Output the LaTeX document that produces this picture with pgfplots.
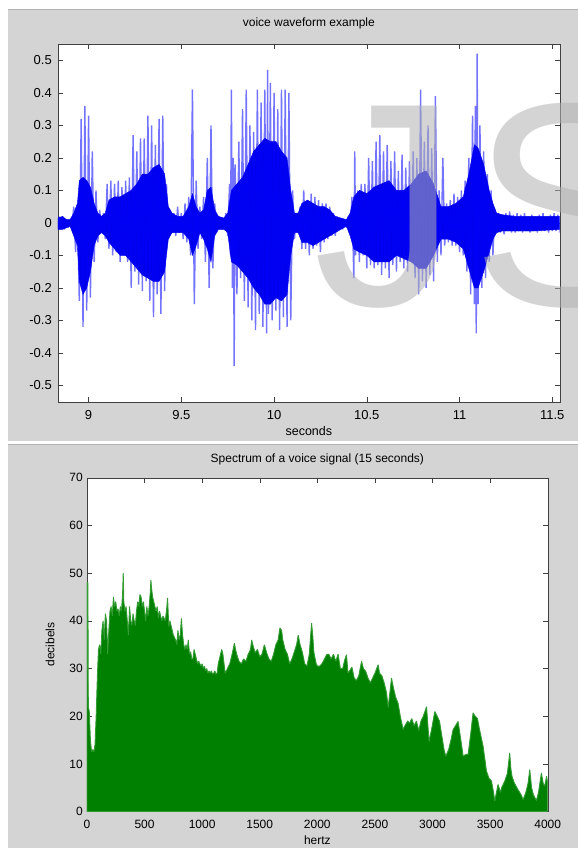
\documentclass[border=0pt]{standalone}
\usepackage{pgfplots}
\pgfplotsset{compat=1.18}
\usepackage{fontspec}
\setmainfont{Liberation Sans}
\definecolor{figgrey}{RGB}{212,212,212}
\definecolor{mblue}{RGB}{0,0,235}
\definecolor{mgreen}{RGB}{0,128,0}
\definecolor{mgreenedge}{RGB}{50,155,50}
\begin{document}
\begin{tikzpicture}
\fill[white] (0pt,0pt) rectangle (578pt,848pt);
\fill[figgrey] (8pt,407pt) rectangle (578pt,838pt);
\draw[black!30,line width=1pt] (8pt,838pt) -- (578pt,838pt);
\fill[figgrey] (8pt,0pt) rectangle (578pt,403pt);
\draw[black!30,line width=1pt] (8pt,403pt) -- (578pt,403pt);

\begin{axis}[
  at={(58pt,446pt)}, anchor=south west, scale only axis,
  width=502pt, height=358pt,
  xmin=8.835, xmax=11.54, ymin=-0.55, ymax=0.55,
  axis background/.style={fill=white},
  axis line style={black!75},
  every tick/.style={black!75},
  major tick length=5pt,
  xtick={9,9.5,10,10.5,11,11.5},
  ytick={-0.5,-0.4,-0.3,-0.2,-0.1,0,0.1,0.2,0.3,0.4,0.5},
  /pgf/number format/assume math mode=true,
  tick label style={font=\fontsize{13}{15}\selectfont},
  xticklabel style={anchor=base, yshift=-18pt},
  yticklabel style={/pgf/number format/fixed, /pgf/number format/precision=1, anchor=east, inner sep=0pt, xshift=-6pt},
  title={voice waveform example},
  title style={at={(0.5,1)}, anchor=base, yshift=11pt, font=\fontsize{12}{14}\selectfont},
  xlabel={seconds},
  xlabel style={at={(0.5,0)}, anchor=base, yshift=-34pt, font=\fontsize{12.5}{14}\selectfont},
]
% dense core of the waveform: upper envelope left to right, lower envelope right to left
\addplot[fill=mblue, draw=mblue, line width=0.4pt] table {
8.835 0.015
8.86 0.02
8.88 0.01
8.90 0.01
8.92 0.03
8.94 0.06
8.95 0.13
8.97 0.14
8.99 0.13
9.01 0.11
9.03 0.06
9.05 0.03
9.07 0.02
9.09 0.03
9.11 0.07
9.14 0.08
9.17 0.08
9.20 0.09
9.23 0.10
9.26 0.12
9.29 0.15
9.32 0.15
9.35 0.17
9.38 0.18
9.41 0.15
9.43 0.05
9.45 0.03
9.48 0.02
9.51 0.02
9.54 0.05
9.56 0.09
9.58 0.05
9.60 0.03
9.62 0.04
9.64 0.10
9.66 0.11
9.68 0.04
9.70 0.02
9.73 0.015
9.75 0.03
9.77 0.10
9.80 0.12
9.83 0.14
9.86 0.18
9.89 0.22
9.92 0.24
9.95 0.26
9.98 0.25
10.01 0.25
10.04 0.22
10.07 0.20
10.09 0.10
10.11 0.03
10.13 0.03
10.15 0.06
10.18 0.07
10.21 0.06
10.24 0.05
10.27 0.05
10.30 0.04
10.33 0.02
10.36 0.015
10.39 0.01
10.41 0.03
10.43 0.08
10.46 0.10
10.50 0.09
10.54 0.11
10.58 0.12
10.62 0.13
10.66 0.10
10.70 0.10
10.74 0.12
10.78 0.15
10.82 0.16
10.86 0.12
10.90 0.05
10.94 0.05
10.98 0.06
11.02 0.08
11.05 0.15
11.08 0.24
11.10 0.23
11.13 0.18
11.16 0.10
11.18 0.06
11.20 0.03
11.23 0.025
11.30 0.02
11.40 0.02
11.54 0.02
11.54 -0.02
11.40 -0.025
11.30 -0.025
11.23 -0.025
11.20 -0.03
11.18 -0.05
11.16 -0.09
11.13 -0.15
11.10 -0.20
11.08 -0.20
11.05 -0.14
11.02 -0.08
10.98 -0.06
10.94 -0.05
10.90 -0.05
10.86 -0.10
10.82 -0.14
10.78 -0.14
10.74 -0.12
10.70 -0.11
10.66 -0.10
10.62 -0.12
10.58 -0.12
10.54 -0.12
10.50 -0.10
10.46 -0.09
10.43 -0.08
10.41 -0.04
10.39 -0.01
10.36 -0.02
10.33 -0.03
10.30 -0.04
10.27 -0.05
10.24 -0.06
10.21 -0.07
10.18 -0.06
10.15 -0.06
10.13 -0.03
10.11 -0.03
10.09 -0.10
10.07 -0.22
10.04 -0.24
10.01 -0.23
9.98 -0.25
9.95 -0.25
9.92 -0.22
9.89 -0.20
9.86 -0.17
9.83 -0.15
9.80 -0.13
9.77 -0.12
9.75 -0.03
9.73 -0.02
9.70 -0.02
9.68 -0.04
9.66 -0.12
9.64 -0.08
9.62 -0.05
9.60 -0.03
9.58 -0.07
9.56 -0.10
9.54 -0.05
9.51 -0.03
9.48 -0.03
9.45 -0.03
9.43 -0.05
9.41 -0.15
9.38 -0.18
9.35 -0.18
9.32 -0.17
9.29 -0.16
9.26 -0.14
9.23 -0.12
9.20 -0.10
9.17 -0.10
9.14 -0.08
9.11 -0.06
9.09 -0.04
9.07 -0.03
9.05 -0.04
9.03 -0.07
9.01 -0.15
8.99 -0.20
8.97 -0.22
8.95 -0.18
8.94 -0.07
8.92 -0.04
8.90 -0.01
8.88 -0.015
8.86 -0.02
8.835 -0.02
} -- cycle;
% individual excursions (spikes)
\addplot[blue, line width=1.4pt, opacity=0.55, line join=bevel] table {
8.84 0.02
8.85 -0.02
8.86 0.015
8.87 -0.02
8.88 0.01
8.89 -0.015
8.90 0.01
8.91 -0.02
8.92 0.05
8.93 -0.09
8.94 0.05
8.95 -0.24
8.96 0.32
8.97 -0.32
8.98 0.36
8.99 -0.27
9.00 0.33
9.01 -0.23
9.02 0.22
9.03 -0.12
9.04 0.10
9.05 -0.06
9.06 0.04
9.07 -0.03
9.08 0.03
9.09 -0.05
9.10 0.12
9.11 -0.08
9.12 0.13
9.13 -0.10
9.14 0.12
9.15 -0.09
9.16 0.13
9.17 -0.12
9.18 0.11
9.19 -0.10
9.20 0.13
9.21 -0.12
9.22 0.14
9.23 -0.20
9.24 0.27
9.25 -0.15
9.26 0.22
9.27 -0.19
9.28 0.26
9.29 -0.21
9.30 0.26
9.31 -0.18
9.32 0.33
9.33 -0.24
9.34 0.30
9.35 -0.29
9.36 0.24
9.37 -0.22
9.38 0.32
9.39 -0.28
9.40 0.33
9.41 -0.21
9.42 0.12
9.43 -0.05
9.44 0.04
9.45 -0.03
9.46 0.03
9.47 -0.04
9.48 0.05
9.49 -0.03
9.50 0.03
9.51 -0.05
9.52 0.06
9.53 -0.06
9.54 0.08
9.55 -0.10
9.56 0.41
9.57 -0.25
9.58 0.13
9.59 -0.08
9.60 0.05
9.61 -0.05
9.62 0.08
9.63 -0.12
9.64 0.20
9.65 -0.20
9.66 0.30
9.67 -0.14
9.68 0.06
9.69 -0.03
9.70 0.02
9.71 -0.02
9.72 0.015
9.73 -0.02
9.74 0.03
9.75 -0.04
9.76 0.12
9.765 -0.10
9.77 0.41
9.775 -0.20
9.78 0.20
9.785 -0.44
9.79 0.18
9.80 -0.22
9.81 0.25
9.82 -0.17
9.83 0.35
9.84 -0.24
9.85 0.41
9.86 -0.26
9.87 0.30
9.88 -0.30
9.89 0.28
9.90 -0.33
9.91 0.41
9.92 -0.28
9.93 0.37
9.94 -0.32
9.95 0.41
9.96 -0.34
9.965 0.47
9.97 -0.28
9.98 0.43
9.99 -0.30
10.00 0.40
10.01 -0.27
10.02 0.35
10.03 -0.33
10.04 0.41
10.05 -0.29
10.06 0.41
10.07 -0.32
10.08 0.40
10.09 -0.30
10.10 0.10
10.11 -0.05
10.12 0.03
10.13 -0.03
10.14 0.05
10.15 -0.08
10.16 0.10
10.17 -0.08
10.18 0.07
10.19 -0.10
10.20 0.09
10.21 -0.08
10.22 0.08
10.23 -0.07
10.24 0.07
10.25 -0.09
10.26 0.06
10.27 -0.06
10.28 0.06
10.29 -0.05
10.30 0.05
10.31 -0.04
10.32 0.03
10.33 -0.04
10.34 0.02
10.35 -0.02
10.36 0.015
10.37 -0.02
10.38 0.01
10.39 -0.015
10.40 0.02
10.41 -0.03
10.42 0.08
10.43 -0.17
10.435 0.22
10.44 -0.10
10.45 0.10
10.46 -0.12
10.47 0.12
10.48 -0.10
10.49 0.12
10.50 -0.14
10.51 0.20
10.52 -0.13
10.53 0.19
10.54 -0.14
10.55 0.25
10.56 -0.13
10.57 0.27
10.58 -0.16
10.59 0.22
10.60 -0.14
10.61 0.24
10.62 -0.17
10.63 0.19
10.64 -0.13
10.65 0.22
10.66 -0.15
10.67 0.16
10.68 -0.12
10.69 0.21
10.70 -0.14
10.71 0.17
10.72 -0.15
10.73 0.19
10.74 -0.12
10.75 0.22
10.76 -0.17
10.77 0.20
10.78 -0.22
10.79 0.41
10.80 -0.18
10.81 0.25
10.82 -0.20
10.83 0.30
10.84 -0.16
10.85 0.23
10.86 -0.18
10.87 0.39
10.88 -0.12
10.89 0.10
10.90 -0.10
10.91 0.20
10.92 -0.07
10.93 0.06
10.94 -0.06
10.95 0.07
10.96 -0.07
10.97 0.09
10.98 -0.07
10.99 0.08
11.00 -0.09
11.01 0.10
11.02 -0.10
11.03 0.13
11.04 -0.15
11.05 0.20
11.06 -0.22
11.07 0.33
11.08 -0.25
11.085 0.36
11.09 -0.34
11.095 0.52
11.10 -0.25
11.11 0.30
11.12 -0.20
11.13 0.22
11.14 -0.17
11.15 0.15
11.16 -0.12
11.17 0.10
11.18 -0.10
11.19 0.04
11.20 -0.03
11.21 0.03
11.22 -0.03
11.23 0.025
11.24 -0.035
11.25 0.03
11.26 -0.025
11.27 0.035
11.28 -0.03
11.29 0.025
11.30 -0.03
11.31 0.03
11.32 -0.025
11.33 0.025
11.34 -0.03
11.35 0.03
11.36 -0.025
11.37 0.02
11.38 -0.03
11.39 0.025
11.40 -0.025
11.41 0.02
11.42 -0.03
11.43 0.025
11.44 -0.025
11.45 0.03
11.46 -0.025
11.47 0.02
11.48 -0.03
11.49 0.025
11.50 -0.025
11.51 0.03
11.52 -0.025
11.53 0.025
11.54 -0.03
};
\end{axis}

\begin{axis}[
  at={(87pt,36pt)}, anchor=south west, scale only axis,
  width=461pt, height=334pt,
  xmin=0, xmax=4000, ymin=0, ymax=70,
  axis background/.style={fill=white},
  axis line style={black!75},
  every tick/.style={black!75},
  major tick length=5pt,
  xtick={0,500,...,4000},
  ytick={0,10,...,70},
  /pgf/number format/assume math mode=true,
  scaled x ticks=false,
  /pgf/number format/1000 sep={},
  tick label style={font=\fontsize{12}{14}\selectfont},
  xticklabel style={anchor=base, yshift=-17pt},
  yticklabel style={anchor=east, inner sep=0pt, xshift=-4pt},
  title={Spectrum of a voice signal (15 seconds)},
  title style={at={(0.5,1)}, anchor=base, yshift=9pt, font=\fontsize{12}{14}\selectfont},
  xlabel={hertz},
  xlabel style={at={(0.5,0)}, anchor=base, yshift=-33pt, font=\fontsize{12}{14}\selectfont},
  ylabel={decibels},
  ylabel style={at={(axis description cs:-0.08,0.5)}, anchor=center, font=\fontsize{12}{14}\selectfont},
]
\addplot[fill=mgreen, draw=mgreenedge, line width=0.9pt, line join=bevel] table {
0 48
8 48
12 22
20 21
30 15
40 12.5
50 13
60 12.5
70 14
80 20
90 28
100 34
110 35
120 33
130 38
140 40
150 36
160 41.5
170 40
180 33
190 38
200 42
210 43
220 41
230 45
240 43
250 44
260 42
270 42.5
280 41
290 43
300 42
310 46
315 50
320 44
330 42
340 43
350 40
360 37
370 43
380 40
390 39
400 41.5
410 40
420 39
430 42
440 44
450 43
460 45.5
470 45
480 43
490 44
500 42
510 40
520 43
530 41
540 43
550 46
555 48.6
560 47
570 45
580 44
590 43
600 42
610 43
620 40.6
630 42
640 41
650 40
660 41
670 40.5
680 40
690 42
700 44.8
710 38.8
720 40
730 39
740 38
750 37
760 36.5
770 36
780 35
790 38
800 36
810 37
820 40.5
830 37
840 35
850 34
860 35
870 34
880 36
890 33
900 33.5
910 32
920 32
930 34
940 33
950 32
960 31
970 31.5
980 31
990 30.5
1000 31
1010 30
1020 30.5
1030 29.5
1040 30
1050 29
1060 29.5
1070 29
1080 29.5
1090 28.8
1100 29
1110 29.5
1120 28.8
1130 29
1140 31
1150 32
1160 33
1170 34
1180 33
1190 31
1200 29
1220 30
1240 31
1260 33
1280 35.3
1290 34
1300 33
1320 31.5
1340 31
1360 32
1380 31.5
1400 33
1420 34
1430 36
1440 35
1460 33.3
1480 34
1500 32.5
1520 33
1540 35
1560 33.3
1580 32
1600 31.5
1620 33
1640 35
1660 36
1675 38.5
1690 38
1700 36
1720 34
1740 33
1760 31
1780 32
1800 33.5
1820 35
1834 37
1850 35
1870 33.4
1890 31
1910 30.5
1930 33
1950 39.5
1960 37
1970 33.4
1990 31
2000 30.5
2020 30.5
2040 31
2060 31.9
2080 32.9
2100 33
2120 32
2140 33
2160 31.5
2180 33
2200 30
2220 30
2240 32
2253 32.9
2266 29
2280 29.5
2300 30.3
2320 28
2340 27.5
2360 28.5
2384 31.5
2400 30
2420 29.4
2440 28
2460 27
2480 28
2500 29
2528 30.8
2540 29
2560 28.5
2580 27
2600 25
2615 21.8
2630 25
2644 28
2660 26
2680 24
2701 22.7
2720 20
2745 17.2
2760 18
2785 19
2800 18.5
2820 19.5
2840 18
2860 19
2880 17
2900 19
2920 20
2948 22
2960 18
2970 14.7
2990 17
3020 21
3040 20
3060 19
3080 16
3100 13
3115 11.6
3140 13
3160 15
3179 17.2
3200 18
3222 18.9
3240 16
3266 11.6
3290 12
3309 12
3330 16
3352 20.7
3370 20
3390 19.5
3410 17
3439 13.7
3460 10
3468 8.5
3490 7
3512 6.4
3530 4
3540 2.2
3555 4
3569 5.7
3590 4
3600 5
3627 6.4
3650 8
3670 12.3
3680 9
3690 7.4
3710 6
3742 4.6
3770 3.5
3786 2.5
3810 4
3830 6
3844 8.8
3860 5
3875 3.6
3902 2.3
3920 4
3945 8.1
3960 6
3974 5.3
3990 7.4
4000 6
} \closedcycle;
\end{axis}

\begin{scope}[overlay]
\clip (0pt,0pt) rectangle (578pt,848pt);
\node[anchor=base west, inner sep=0pt, text=black!30, text opacity=0.55,
      font=\fontsize{290}{290}\selectfont] at (313pt,542pt) {J};
\node[anchor=base west, inner sep=0pt, text=black!30, text opacity=0.55,
      font=\fontsize{290}{290}\selectfont] at (472pt,542pt) {S};
\end{scope}
\end{tikzpicture}
\end{document}
